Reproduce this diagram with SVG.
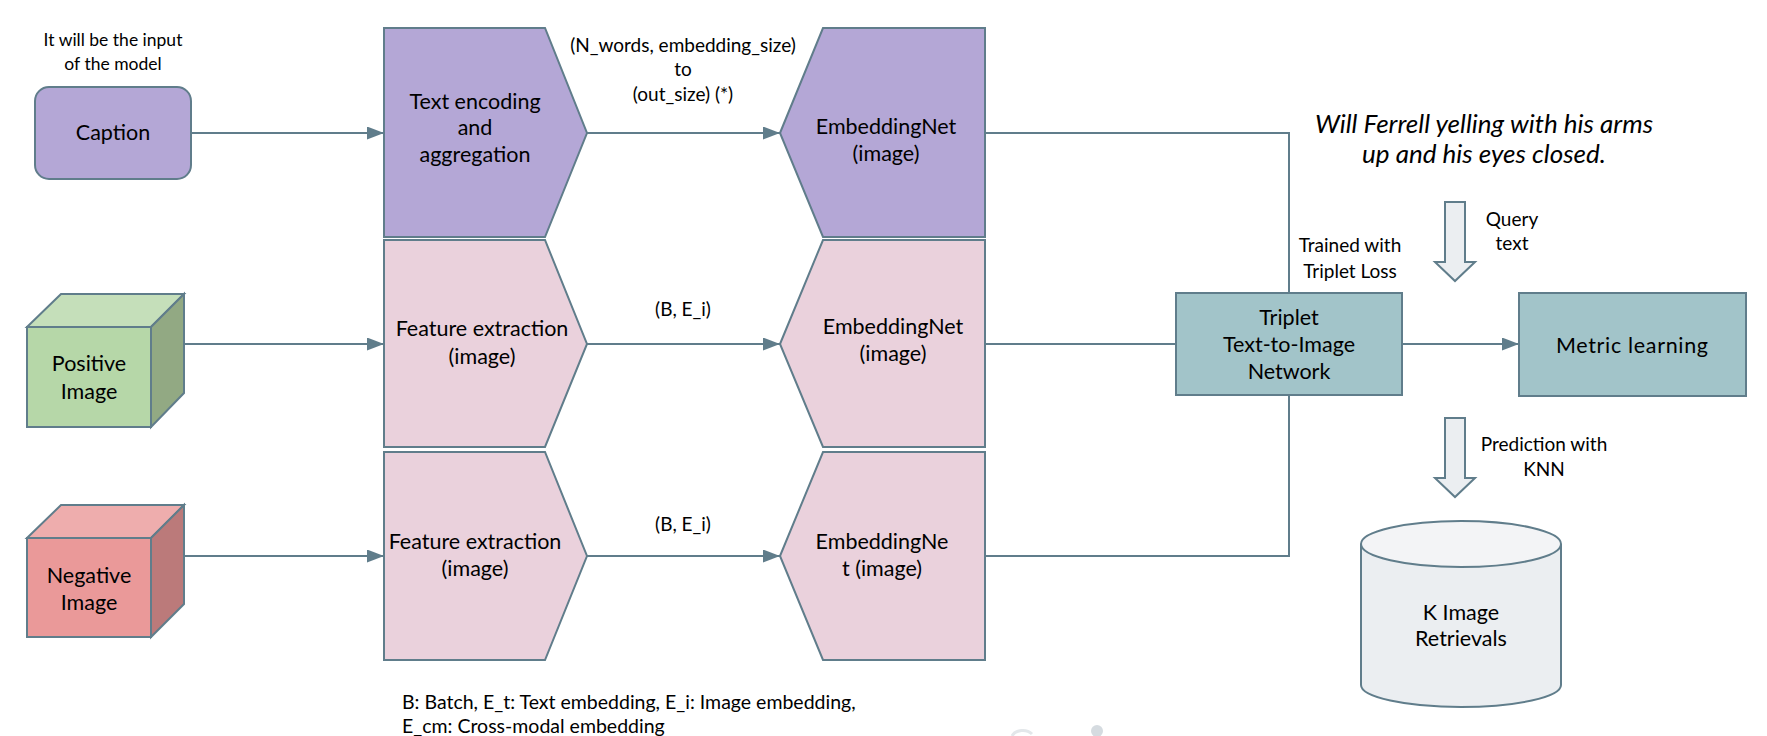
<svg xmlns="http://www.w3.org/2000/svg" width="1767" height="736" viewBox="0 0 1767 736">
<style>
.b{stroke:#607d8b;stroke-width:2}
.c{stroke:#607d8b;stroke-width:2;fill:none}
.t{font-family:Lato,"Liberation Sans",sans-serif;font-size:21.5px;fill:#000;text-anchor:middle}
.s{font-size:19px}
.n{font-size:17.5px}
.l{font-family:Lato,"Liberation Sans",sans-serif;font-size:19.5px;fill:#000}
.i{font-style:italic;font-size:26px}
</style>
<defs>
<marker id="arr" viewBox="0 0 17 13" refX="17" refY="6.5" markerWidth="17" markerHeight="13" markerUnits="userSpaceOnUse" orient="auto">
<path d="M0,0 L17,6.5 L0,13 Z" fill="#607d8b"/>
</marker>
</defs>
<rect width="1767" height="736" fill="#fff"/>
<g id="connectors">
<path class="c" d="M191,133 H384" marker-end="url(#arr)"/>
<path class="c" d="M184,344 H384" marker-end="url(#arr)"/>
<path class="c" d="M184,556 H384" marker-end="url(#arr)"/>
<path class="c" d="M587,133 H780" marker-end="url(#arr)"/>
<path class="c" d="M587,344 H780" marker-end="url(#arr)"/>
<path class="c" d="M587,556 H780" marker-end="url(#arr)"/>
<path class="c" d="M985,133 H1289 V293"/>
<path class="c" d="M985,344 H1176"/>
<path class="c" d="M985,556 H1289 V395"/>
<path class="c" d="M1402,344 H1519" marker-end="url(#arr)"/>
<text class="t s" x="683" y="52">(N_words, embedding_size)</text>
<text class="t s" x="683" y="76">to</text>
<text class="t s" x="683" y="101">(out_size) (*)</text>
<text class="t s" x="683" y="316">(B, E_i)</text>
<text class="t s" x="683" y="531">(B, E_i)</text>
<text class="t s" x="1350" y="252">Trained with</text>
<text class="t s" x="1350" y="278">Triplet Loss</text>
</g>
<g id="caption-note">
<text class="t n" x="113" y="46">It will be the input</text>
<text class="t n" x="113" y="70">of the model</text>
</g>
<g id="caption">
<rect class="b" x="35" y="87" width="156" height="92" rx="14" fill="#b4a7d6"/>
<text class="t" x="113" y="140">Caption</text>
</g>
<g id="positive-image">
<rect class="b" x="27" y="327" width="124" height="100" fill="#b6d7a8"/>
<polygon class="b" points="27,327 61,294 184,294 151,327" fill="#c5dfba"/>
<polygon class="b" points="151,327 184,294 184,393 151,427" fill="#92a983"/>
<text class="t" x="89" y="371">Positive</text>
<text class="t" x="89" y="399">Image</text>
</g>
<g id="negative-image">
<rect class="b" x="27" y="538" width="124" height="99" fill="#ea9999"/>
<polygon class="b" points="27,538 61,505 184,505 151,538" fill="#eeadad"/>
<polygon class="b" points="151,538 184,505 184,604 151,637" fill="#bb7a7a"/>
<text class="t" x="89" y="583">Negative</text>
<text class="t" x="89" y="610">Image</text>
</g>
<g id="text-encoding">
<polygon class="b" points="384,28 545,28 587,133 545,237 384,237" fill="#b4a7d6"/>
<text class="t" x="475" y="109">Text encoding</text>
<text class="t" x="475" y="135">and</text>
<text class="t" x="475" y="162">aggregation</text>
</g>
<g id="embedding-text">
<polygon class="b" points="780,133 823,28 985,28 985,237 823,237" fill="#b4a7d6"/>
<text class="t" x="886" y="134">EmbeddingNet</text>
<text class="t" x="886" y="161">(image)</text>
</g>
<g id="feature-positive">
<polygon class="b" points="384,240 545,240 587,344 545,447 384,447" fill="#ead1dc"/>
<text class="t" x="482" y="336">Feature extraction</text>
<text class="t" x="482" y="364">(image)</text>
</g>
<g id="embedding-positive">
<polygon class="b" points="780,344 823,240 985,240 985,447 823,447" fill="#ead1dc"/>
<text class="t" x="893" y="334">EmbeddingNet</text>
<text class="t" x="893" y="361">(image)</text>
</g>
<g id="feature-negative">
<polygon class="b" points="384,452 545,452 587,556 545,660 384,660" fill="#ead1dc"/>
<text class="t" x="475" y="549">Feature extraction</text>
<text class="t" x="475" y="576">(image)</text>
</g>
<g id="embedding-negative">
<polygon class="b" points="780,556 823,452 985,452 985,660 823,660" fill="#ead1dc"/>
<text class="t" x="882" y="549">EmbeddingNe</text>
<text class="t" x="882" y="576">t (image)</text>
</g>
<g id="triplet">
<rect class="b" x="1176" y="293" width="226" height="102" fill="#a2c4c9"/>
<text class="t" x="1289" y="325">Triplet</text>
<text class="t" x="1289" y="352">Text-to-Image</text>
<text class="t" x="1289" y="379">Network</text>
</g>
<g id="metric">
<rect class="b" x="1519" y="293" width="227" height="103" fill="#a2c4c9"/>
<text class="t" x="1632" y="353" font-size="22.5" textLength="152">Metric learning</text>
</g>
<g id="query">
<text class="t i" x="1484" y="133">Will Ferrell yelling with his arms</text>
<text class="t i" x="1484" y="163">up and his eyes closed.</text>
<path class="b" d="M1445,202 H1465 V262 H1475 L1455,281 L1435,262 H1445 Z" fill="#ebeef1"/>
<text class="t s" x="1512" y="226">Query</text>
<text class="t s" x="1512" y="250">text</text>
</g>
<g id="prediction">
<path class="b" d="M1445,418 H1465 V478 H1475 L1455,497 L1435,478 H1445 Z" fill="#ebeef1"/>
<text class="t s" x="1544" y="451">Prediction with</text>
<text class="t s" x="1544" y="476">KNN</text>
</g>
<g id="retrievals">
<path class="b" d="M1361,544 V685 A100,22 0 0 0 1561,685 V544" fill="#ebeef1"/>
<ellipse class="b" cx="1461" cy="544" rx="100" ry="23" fill="#f3f4f6"/>
<text class="t" x="1461" y="620" font-size="23">K Image</text>
<text class="t" x="1461" y="646" font-size="23">Retrievals</text>
</g>
<g id="legend">
<text class="l" x="402" y="709">B: Batch, E_t: Text embedding, E_i: Image embedding,</text>
<text class="l" x="402" y="733">E_cm: Cross-modal embedding</text>
</g>
<g id="watermark">
<circle cx="1097" cy="731" r="6" fill="#d5dbe0"/>
<path d="M1012,736 A12,10 0 0 1 1032,734" stroke="#e3e7ea" stroke-width="3" fill="none"/>
</g>
</svg>
